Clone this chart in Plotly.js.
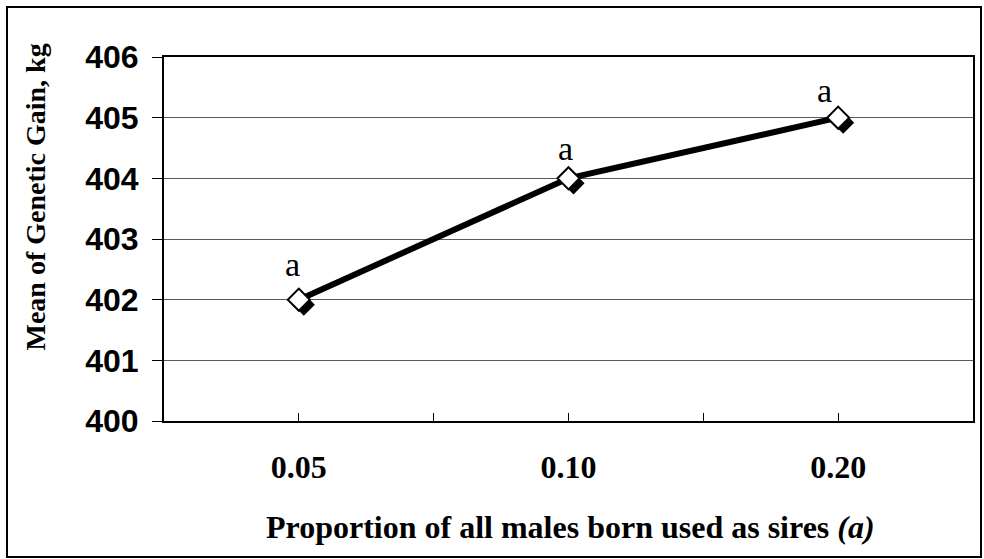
<!DOCTYPE html>
<html>
<head>
<meta charset="utf-8">
<script src="https://cdn.plot.ly/plotly-3.0.1.min.js"></script>
<style>html,body{margin:0;padding:0;background:#fff;}#chart{width:984px;height:559px;}</style>
</head>
<body>
<div id="chart"></div>
<script>
// ---- data ----
const categories = ['0.05', '0.10', '0.20'];
const genGain = [402, 404, 405];
const letters = ['a', 'a', 'a'];
const yTicks = [400, 401, 402, 403, 404, 405, 406];
const xTitle = 'Proportion of all males born used as sires <i>(a)</i>';
const yTitle = 'Mean of Genetic Gain, kg';

// ---- label placement (styling, px) ----
const labelDx = [-6, -3, -14];
const labelDy = [35, 30, 27];

// ---- layout geometry ----
const W = 984, H = 559;
const mL = 164, mR = 6, mT = 57, mB = 133;
const pw = W - mL - mR, ph = H - mT - mB;
const off = 5; // shadow offset px
const px2x = p => (p - mL) / pw;
const px2y = p => (H - mB - p) / ph;

const xIdx = categories.map((c, i) => i);
const tickVals = [], tickText = [];
categories.forEach((c, i) => {
  tickVals.push(i); tickText.push(c);
  if (i < categories.length - 1) { tickVals.push(i + 0.5); tickText.push(''); }
});

const mainXDom = [0, (pw - off) / pw];
const mainYDom = [off / ph, 1];
const shXDom = [off / pw, 1];
const shYDom = [0, (ph - off) / ph];

const traces = [
  {x: xIdx, y: genGain, mode: 'lines', line: {color: '#000', width: 6}, xaxis: 'x', yaxis: 'y', hoverinfo: 'skip'},
  {x: xIdx, y: genGain, mode: 'markers', marker: {symbol: 'diamond', size: 17, color: '#000', line: {width: 0}}, xaxis: 'x2', yaxis: 'y2', hoverinfo: 'skip'},
  {x: xIdx, y: genGain, mode: 'markers', marker: {symbol: 'diamond', size: 17, color: '#fff', line: {color: '#000', width: 2}}, xaxis: 'x3', yaxis: 'y3'}
];

const hidden = {showgrid: false, zeroline: false, showticklabels: false, ticks: '', showline: false};

const layout = {
  width: W, height: H,
  margin: {l: mL, r: mR, t: mT, b: mB, pad: 0},
  paper_bgcolor: '#fff', plot_bgcolor: 'rgba(0,0,0,0)',
  showlegend: false,
  xaxis: {
    domain: mainXDom, range: [-0.5, categories.length - 0.5], anchor: 'y',
    tickmode: 'array', tickvals: tickVals, ticktext: tickText,
    ticks: 'inside', ticklen: 8, tickwidth: 1, tickcolor: '#000',
    showline: true, linecolor: '#000', linewidth: 2, mirror: true,
    showgrid: false, zeroline: false, ticklabelstandoff: 17,
    tickfont: {family: 'Liberation Serif, Times New Roman, serif', size: 32, color: '#000', weight: 'bold'}
  },
  yaxis: {
    domain: mainYDom, range: [400, 406], anchor: 'x',
    tickmode: 'array', tickvals: yTicks,
    ticks: 'outside', ticklen: 10, tickwidth: 1, tickcolor: '#000',
    showline: true, linecolor: '#000', linewidth: 2, mirror: true,
    showgrid: true, gridcolor: '#5a5a5a', gridwidth: 1, zeroline: false,
    ticklabelstandoff: 7,
    tickfont: {family: 'Liberation Sans, Arial, sans-serif', size: 32, color: '#000', weight: 'bold'}
  },
  xaxis2: Object.assign({domain: shXDom, range: [-0.5, categories.length - 0.5], anchor: 'y2'}, hidden),
  yaxis2: Object.assign({domain: shYDom, range: [400, 406], anchor: 'x2'}, hidden),
  xaxis3: Object.assign({domain: mainXDom, range: [-0.5, categories.length - 0.5], anchor: 'y3'}, hidden),
  yaxis3: Object.assign({domain: mainYDom, range: [400, 406], anchor: 'x3'}, hidden),
  annotations: [
    ...xIdx.map((xi, i) => ({
      x: xi, y: genGain[i], xref: 'x3', yref: 'y3', text: letters[i], showarrow: false,
      xshift: labelDx[i], yshift: labelDy[i],
      font: {family: 'Liberation Serif, Times New Roman, serif', size: 34, color: '#000'}
    })),
    {
      xref: 'paper', yref: 'paper', x: px2x(570), y: px2y(527), xanchor: 'center', yanchor: 'middle',
      text: '<b>' + xTitle + '</b>', showarrow: false,
      font: {family: 'Liberation Serif, Times New Roman, serif', size: 32, color: '#000'}
    },
    {
      xref: 'paper', yref: 'paper', x: px2x(35), y: px2y(353), xanchor: 'center', yanchor: 'bottom',
      text: '<b>' + yTitle + '</b>', showarrow: false, textangle: -90,
      font: {family: 'Liberation Serif, Times New Roman, serif', size: 28, color: '#000'}
    }
  ],
  shapes: [
    {type: 'rect', xref: 'paper', yref: 'paper', x0: px2x(7), x1: px2x(981), y0: px2y(557), y1: px2y(7),
     line: {color: '#000', width: 2}, fillcolor: 'rgba(0,0,0,0)', layer: 'below'}
  ]
};

Plotly.newPlot('chart', traces, layout, {displayModeBar: false, staticPlot: true});
</script>
</body>
</html>
